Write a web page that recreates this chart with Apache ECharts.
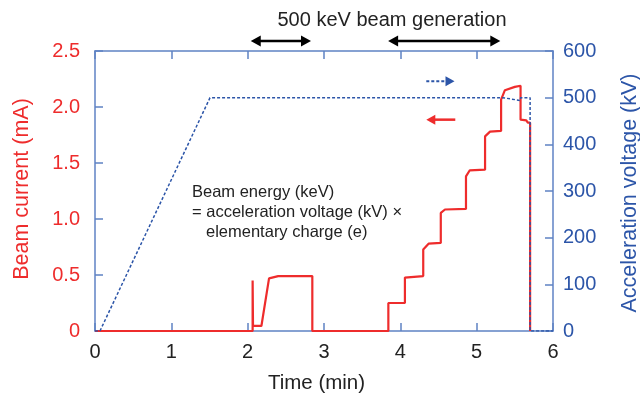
<!DOCTYPE html>
<html>
<head>
<meta charset="utf-8">
<script src="https://cdn.jsdelivr.net/npm/echarts@6/dist/echarts.min.js"></script>
<style>html,body{margin:0;padding:0;background:#fff}#c{width:640px;height:396px}</style>
</head>
<body>
<div id="c"></div>
<script>
// ---- data ----
const currentTime = [0, 2.065, 2.065, 2.07, 2.18, 2.28, 2.40, 2.847, 2.847, 3.843, 3.843, 4.06, 4.06, 4.30, 4.30, 4.37, 4.53, 4.53, 4.585, 4.86, 4.86, 4.91, 5.11, 5.11, 5.175, 5.32, 5.32, 5.37, 5.50, 5.575, 5.575, 5.65, 5.67, 5.70, 5.70];
const currentMA   = [0, 0, 0.45, 0.045, 0.045, 0.47, 0.49, 0.49, 0, 0, 0.25, 0.25, 0.477, 0.49, 0.727, 0.78, 0.786, 1.054, 1.085, 1.09, 1.38, 1.435, 1.44, 1.738, 1.78, 1.786, 2.066, 2.15, 2.18, 2.19, 1.887, 1.88, 1.86, 1.86, 0];
const voltageTime = [0, 0.065, 1.507, 5.34, 5.57, 5.575, 5.70, 5.70, 6];
const voltageKV   = [0, 0, 500, 500, 494, 500, 500, 0, 0];
const generationSpans = [[2.04, 2.83], [3.84, 5.31]];
const voltageArrow = [[4.34, 4.71, 535]];
const currentArrow = [[4.34, 4.72, 1.887]];
const xTicks = {min: 0, max: 6, interval: 1};
const leftTicks = {min: 0, max: 2.5, interval: 0.5};
const rightTicks = {min: 0, max: 600, interval: 100};

const FONT = "'Liberation Sans', Arial, Helvetica, sans-serif";
const RED = '#ee2c2c';
const BLUE = '#2c55a8';
const FRAME = '#5f82c4';
const DARK = '#222222';

const chart = echarts.init(document.getElementById('c'), null, {renderer: 'canvas'});

function arrowHead(tipX, tipY, dir, len, half, color) {
  return {
    type: 'polygon',
    shape: {points: [[tipX, tipY], [tipX - dir * len, tipY - half], [tipX - dir * len, tipY + half]]},
    style: {fill: color}
  };
}

function renderGeneration(params, api) {
  const a = api.coord([api.value(0), leftTicks.max]);
  const b = api.coord([api.value(1), leftTicks.max]);
  const y = a[1] - 10;
  const L = 10, H = 5.5;
  return {
    type: 'group',
    children: [
      {type: 'line', shape: {x1: a[0] + L - 1, y1: y, x2: b[0] - L + 1, y2: y}, style: {stroke: '#000', lineWidth: 2.5}},
      arrowHead(a[0], y, -1, L, H, '#000'),
      arrowHead(b[0], y, 1, L, H, '#000')
    ]
  };
}

function renderVoltArrow(params, api) {
  const a = api.coord([api.value(0), api.value(2)]);
  const b = api.coord([api.value(1), api.value(2)]);
  const L = 9, H = 5;
  return {
    type: 'group',
    children: [
      {type: 'line', shape: {x1: a[0], y1: a[1], x2: b[0] - L + 1, y2: b[1]}, style: {stroke: BLUE, lineWidth: 2, lineDash: [3, 2]}},
      arrowHead(b[0], b[1], 1, L, H, BLUE)
    ]
  };
}

function renderCurrentArrow(params, api) {
  const a = api.coord([api.value(0), api.value(2)]);
  const b = api.coord([api.value(1), api.value(2)]);
  const L = 9, H = 5;
  return {
    type: 'group',
    children: [
      {type: 'line', shape: {x1: a[0] + L - 1, y1: a[1], x2: b[0], y2: b[1]}, style: {stroke: RED, lineWidth: 2.5}},
      arrowHead(a[0], a[1], -1, L, H, RED)
    ]
  };
}

const axisLineStyle = {show: true, onZero: false, lineStyle: {color: FRAME, width: 1.5}};
const tickStyle = {show: true, inside: true, length: 8, lineStyle: {color: FRAME, width: 1.5}};

const option = {
  animation: false,
  backgroundColor: '#fff',
  textStyle: {fontFamily: FONT},
  grid: {left: 95, right: 87, top: 51, bottom: 65, containLabel: false},
  xAxis: [
    {type: 'value', position: 'bottom', min: xTicks.min, max: xTicks.max, interval: xTicks.interval,
     axisLine: axisLineStyle, axisTick: tickStyle, splitLine: {show: false},
     axisLabel: {color: DARK, fontSize: 20, margin: 11, fontFamily: FONT}},
    {type: 'value', position: 'top', min: xTicks.min, max: xTicks.max, interval: xTicks.interval,
     axisLine: axisLineStyle, axisTick: tickStyle, splitLine: {show: false},
     axisLabel: {show: false}}
  ],
  yAxis: [
    {type: 'value', position: 'left', min: leftTicks.min, max: leftTicks.max, interval: leftTicks.interval,
     axisLine: axisLineStyle, axisTick: tickStyle, splitLine: {show: false},
     axisLabel: {color: RED, fontSize: 20, margin: 15, fontFamily: FONT,
       formatter: v => v === 0 ? '0' : v.toFixed(1)}},
    {type: 'value', position: 'right', min: rightTicks.min, max: rightTicks.max, interval: rightTicks.interval,
     axisLine: axisLineStyle, axisTick: tickStyle, splitLine: {show: false},
     axisLabel: {color: BLUE, fontSize: 20, margin: 10, fontFamily: FONT}}
  ],
  series: [
    {type: 'line', name: 'voltage', xAxisIndex: 0, yAxisIndex: 1, symbol: 'none', z: 3,
     data: voltageTime.map((t, i) => [t, voltageKV[i]]),
     lineStyle: {color: BLUE, width: 1.5, type: [3, 2]}},
    {type: 'line', name: 'current', xAxisIndex: 0, yAxisIndex: 0, symbol: 'none', z: 2,
     data: currentTime.map((t, i) => [t, currentMA[i]]),
     lineStyle: {color: RED, width: 2.2}},
    {type: 'custom', xAxisIndex: 0, yAxisIndex: 0, renderItem: renderGeneration, data: generationSpans, clip: false, silent: true},
    {type: 'custom', xAxisIndex: 0, yAxisIndex: 1, renderItem: renderVoltArrow, data: voltageArrow, clip: false, silent: true},
    {type: 'custom', xAxisIndex: 0, yAxisIndex: 0, renderItem: renderCurrentArrow, data: currentArrow, clip: false, silent: true}
  ],
  graphic: [
    {type: 'text', x: 392, y: 20, style: {text: '500 keV beam generation', fill: DARK, font: '20px ' + FONT, align: 'center', verticalAlign: 'middle'}},
    {type: 'text', x: 22.5, y: 189, rotation: Math.PI / 2, style: {text: 'Beam current (mA)', fill: RED, font: '21.5px ' + FONT, align: 'center', verticalAlign: 'middle'}},
    {type: 'text', x: 630, y: 193, rotation: Math.PI / 2, style: {text: 'Acceleration voltage (kV)', fill: BLUE, font: '21.5px ' + FONT, align: 'center', verticalAlign: 'middle'}},
    {type: 'text', x: 316.5, y: 383, style: {text: 'Time (min)', fill: DARK, font: '20.5px ' + FONT, align: 'center', verticalAlign: 'middle'}},
    {type: 'text', x: 192, y: 192.5, style: {text: 'Beam energy (keV)', fill: DARK, font: '16.5px ' + FONT, align: 'left', verticalAlign: 'middle'}},
    {type: 'text', x: 192, y: 212.5, style: {text: '= acceleration voltage (kV) \u00d7', fill: DARK, font: '16.5px ' + FONT, align: 'left', verticalAlign: 'middle'}},
    {type: 'text', x: 206, y: 232.5, style: {text: 'elementary charge (e)', fill: DARK, font: '16.5px ' + FONT, align: 'left', verticalAlign: 'middle'}}
  ]
};
chart.setOption(option);
</script>
</body>
</html>
